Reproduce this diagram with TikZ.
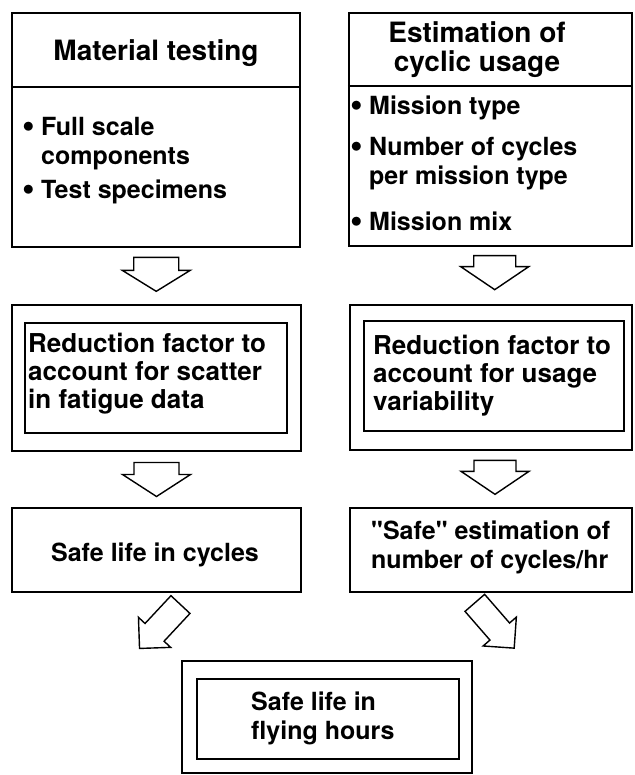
\documentclass[tikz,border=0pt]{standalone}
\usepackage{fontspec}
\setmainfont{TeX Gyre Heros}
\usepackage{tikz}
\usetikzlibrary{calc}

\newcommand{\bul}{\makebox[15pt][l]{\hspace*{-3.5pt}\raisebox{-0.08em}{\fontsize{36}{0}\selectfont\textbullet}}}
\newcommand{\blkarrow}[6]{%
  \draw[blockarrow,shift={(#1)},rotate=#2]
    (-#3,-#4) -- ({#3-#6},-#4) -- ({#3-#6},-#5) -- (#3,0)
    -- ({#3-#6},#5) -- ({#3-#6},#4) -- (-#3,#4) -- cycle;}

\begin{document}
\begin{tikzpicture}[x=1pt,y=-1pt,
  outerbox/.style={draw,line width=2.4pt,inner sep=0pt},
  innerbox/.style={draw,line width=1.2pt,inner sep=0pt},
  boxtext/.style={inner sep=0pt,font=\fontsize{25}{29}\selectfont\bfseries},
  midtext/.style={inner sep=0pt,font=\fontsize{26}{28}\selectfont\bfseries},
  titletext/.style={inner sep=0pt,font=\fontsize{28}{29}\selectfont\bfseries},
  blockarrow/.style={draw,line width=1.4pt,line join=miter,fill=white}]
\useasboundingbox (0,0) rectangle (634,775);

\node[outerbox,minimum width=288,minimum height=234] (mat) at (156,130) {};
\draw[line width=1.5pt] ($(mat.north west)+(0,75)$) -- ($(mat.north east)+(0,75)$);
\node[titletext] (mattitle) at (156,53) {Material testing};
\node[boxtext,anchor=west,align=left] (mat1) at (26,144) {\bul Full scale\\\hspace*{15pt}components};
\node[boxtext,anchor=west] (mat2) at (26,192) {\bul Test specimens};

\node[outerbox,minimum width=283,minimum height=233] (use) at (490.5,129.5) {};
\draw[line width=1.5pt] ($(use.north west)+(0,74)$) -- ($(use.north east)+(0,74)$);
\node[titletext,align=center] (usetitle) at (477,50) {Estimation of\\cyclic usage};
\node[boxtext,anchor=west] (use1) at (354,108) {\bul Mission type};
\node[boxtext,anchor=west,align=left] (use2) at (354,164) {\bul Number of cycles\\\hspace*{15pt}per mission type};
\node[boxtext,anchor=west] (use3) at (354,222) {\bul Mission mix};

\node[outerbox,minimum width=289,minimum height=146] (scat) at (156.5,378) {};
\node[innerbox,minimum width=262,minimum height=110] (scatin) at (156,378) {};
\node[midtext,anchor=west,align=left] (scattext) at (28,374) {Reduction factor to\\account for scatter\\in fatigue data};

\node[outerbox,minimum width=282,minimum height=145] (var) at (491,377.5) {};
\node[innerbox,minimum width=260,minimum height=110] (varin) at (494,376) {};
\node[midtext,anchor=west,align=left] (vartext) at (373,376) {Reduction factor to\\account for usage\\variability};

\node[outerbox,minimum width=289,minimum height=84] (cyc) at (156.5,550) {};
\node[boxtext] (cyctext) at (155,555) {Safe life in cycles};

\node[outerbox,minimum width=282,minimum height=84] (rate) at (491,550) {};
\node[boxtext,anchor=west,align=left] (ratetext) at (371,547.5) {\textquotedbl Safe\textquotedbl\ estimation of\\number of cycles/hr};

\node[outerbox,minimum width=290,minimum height=112] (fly) at (327,717) {};
\node[innerbox,minimum width=262,minimum height=80] (flyin) at (328,719) {};
\node[boxtext,anchor=west,align=left] (flytext) at (251,718) {Safe life in\\flying hours};

\coordinate (a1) at ($(mat.south)!.47!(scat.north)$);
\coordinate (a2) at ([xshift=4pt]$(use.south)!.45!(var.north)$);
\coordinate (a3) at ($(scat.south)!.5!(cyc.north)$);
\coordinate (a4) at ([xshift=4pt]$(var.south)!.47!(rate.north)$);
\coordinate (a5) at (160,626.5);
\coordinate (a6) at (494.5,625.5);
\blkarrow{a1}{-90}{17}{22.5}{34}{21}
\blkarrow{a2}{-90}{17}{21}{34}{23}
\blkarrow{a3}{-90}{17}{22.5}{34}{22}
\blkarrow{a4}{-90}{17}{21}{34}{23}
\blkarrow{a5}{-133}{30}{13}{22}{22}
\blkarrow{a6}{-49}{30}{13}{22}{22}
\end{tikzpicture}
\end{document}
